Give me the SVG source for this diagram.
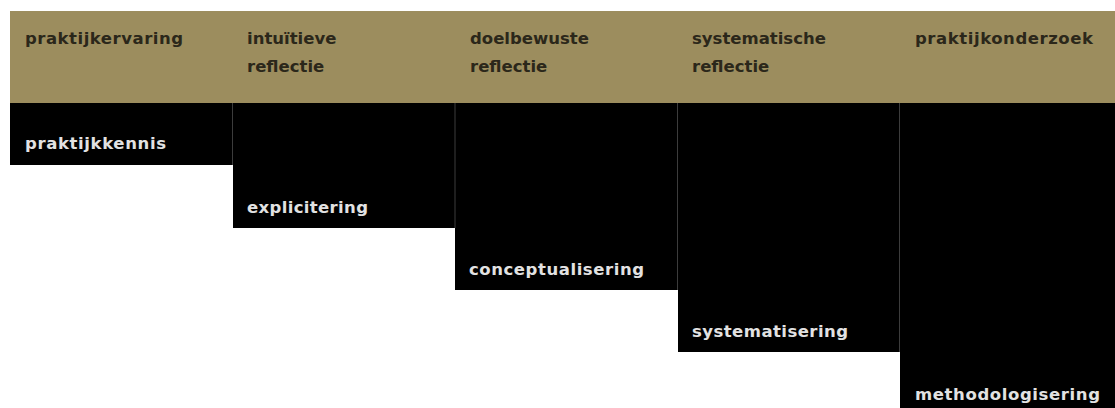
<svg xmlns="http://www.w3.org/2000/svg" width="1115" height="408" viewBox="0 0 1115 408">
<style>
.hdr{font-family:"DejaVu Sans","Liberation Sans",sans-serif;font-size:16.5px;font-weight:bold;fill:#2b271a}
.lbl{font-family:"DejaVu Sans","Liberation Sans",sans-serif;font-size:16.5px;font-weight:bold;fill:#e2e2e2}
.blk{fill:#000}
.sep{stroke:#3c3c3c;stroke-width:1}
</style>
<rect width="1115" height="408" fill="#fff"/>
<rect id="band" x="10" y="11" width="1105" height="92" fill="#9c8d5e"/>
<g id="col1">
<text class="hdr" x="25" y="44" textLength="158" lengthAdjust="spacing">praktijkervaring</text>
<rect class="blk" x="10" y="103" width="223" height="62"/>
<text class="lbl" x="25" y="149" textLength="141" lengthAdjust="spacing">praktijkkennis</text>
</g>
<g id="col2">
<text class="hdr" x="247" y="44">intuïtieve</text>
<text class="hdr" x="247" y="72">reflectie</text>
<rect class="blk" x="233" y="103" width="222" height="125"/>
<text class="lbl" x="247" y="213" textLength="121" lengthAdjust="spacing">explicitering</text>
</g>
<g id="col3">
<text class="hdr" x="470" y="44">doelbewuste</text>
<text class="hdr" x="470" y="72">reflectie</text>
<rect class="blk" x="455" y="103" width="223" height="187"/>
<text class="lbl" x="469" y="275" textLength="175" lengthAdjust="spacing">conceptualisering</text>
</g>
<g id="col4">
<text class="hdr" x="692" y="44">systematische</text>
<text class="hdr" x="692" y="72">reflectie</text>
<rect class="blk" x="678" y="103" width="222" height="249"/>
<text class="lbl" x="692" y="337" textLength="156" lengthAdjust="spacing">systematisering</text>
</g>
<g id="col5">
<text class="hdr" x="915" y="44" textLength="178" lengthAdjust="spacing">praktijkonderzoek</text>
<rect class="blk" x="900" y="103" width="215" height="305"/>
<text class="lbl" x="915" y="400" textLength="185" lengthAdjust="spacing">methodologisering</text>
</g>
<g id="connectors">
<line class="sep" x1="232.5" y1="103" x2="232.5" y2="165"/>
<line class="sep" x1="455" y1="103" x2="455" y2="228"/>
<line class="sep" x1="677.5" y1="103" x2="677.5" y2="290"/>
<line class="sep" x1="899.5" y1="103" x2="899.5" y2="352"/>
</g>
</svg>
